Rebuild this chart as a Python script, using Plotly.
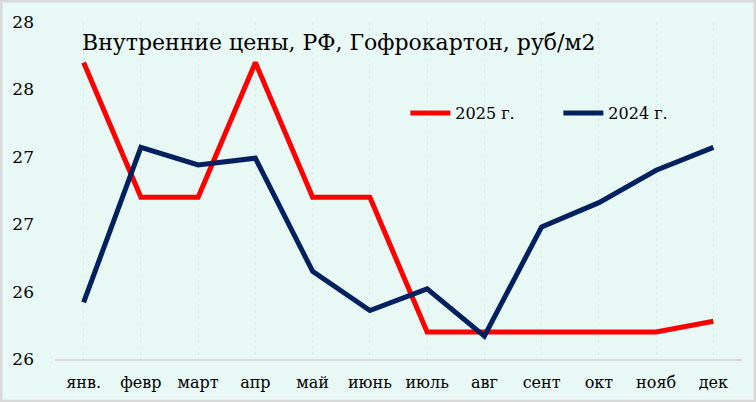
import plotly.graph_objects as go

# данные с картинки
months = ["янв.", "февр", "март", "апр", "май", "июнь", "июль", "авг", "сент", "окт", "нояб", "дек"]
y2025 = [28.20, 27.20, 27.20, 28.20, 27.20, 27.20, 26.20, 26.20, 26.20, 26.20, 26.20, 26.28]
y2024 = [26.42, 27.57, 27.44, 27.49, 26.65, 26.36, 26.52, 26.17, 26.98, 27.16, 27.40, 27.57]
tick_vals = [26, 26.5, 27, 27.5, 28, 28.5]
tick_text = ["26", "26", "27", "27", "28", "28"]

font_name = "DejaVu Serif"

fig = go.Figure()
fig.add_trace(go.Scatter(x=months, y=y2025, mode="lines", name="2025 г.",
                         line=dict(color="#FF0000", width=5)))
fig.add_trace(go.Scatter(x=months, y=y2024, mode="lines", name="2024 г.",
                         line=dict(color="#002060", width=5)))

fig.update_layout(
    width=756, height=402,
    margin=dict(l=55, r=14, t=22, b=43, autoexpand=False),
    paper_bgcolor="#E8F8F5", plot_bgcolor="#E8F8F5",
    font=dict(family=font_name, color="#000000", size=15),
    showlegend=True,
    legend=dict(orientation="h", x=0.51, y=0.73, xanchor="left", yanchor="middle",
                bgcolor="rgba(0,0,0,0)", font=dict(size=16, family=font_name),
                itemwidth=40, entrywidth=98, tracegroupgap=0),
    xaxis=dict(range=[-0.5, 11.5], showgrid=True, gridcolor="#D8ECE8", griddash="dot",
               gridwidth=1, showline=True, linecolor="#D9D9D9", linewidth=2,
               ticks="", tickfont=dict(size=16, family=font_name),
               ticklabelstandoff=8, fixedrange=True),
    yaxis=dict(range=[26, 28.5], tickvals=tick_vals, ticktext=tick_text,
               showgrid=False, zeroline=False, showline=False, ticks="",
               tickfont=dict(size=17, family=font_name), ticklabelstandoff=20,
               fixedrange=True),
    shapes=[dict(type="rect", xref="paper", yref="paper",
                 x0=-0.0786, x1=1.019, y0=-0.125, y1=1.062,
                 line=dict(color="#D9D9D9", width=3), layer="below")],
    annotations=[dict(text="Внутренние цены, РФ, Гофрокартон, руб/м2",
                      xref="paper", yref="paper", x=0.036, y=0.94,
                      xanchor="left", yanchor="middle", showarrow=False,
                      font=dict(size=22, family=font_name))],
)

# убрать отступ body, чтобы график начинался с угла окна
fig.write_html("out.html", config={"displayModeBar": False},
               post_script="document.body.style.margin='0';")
